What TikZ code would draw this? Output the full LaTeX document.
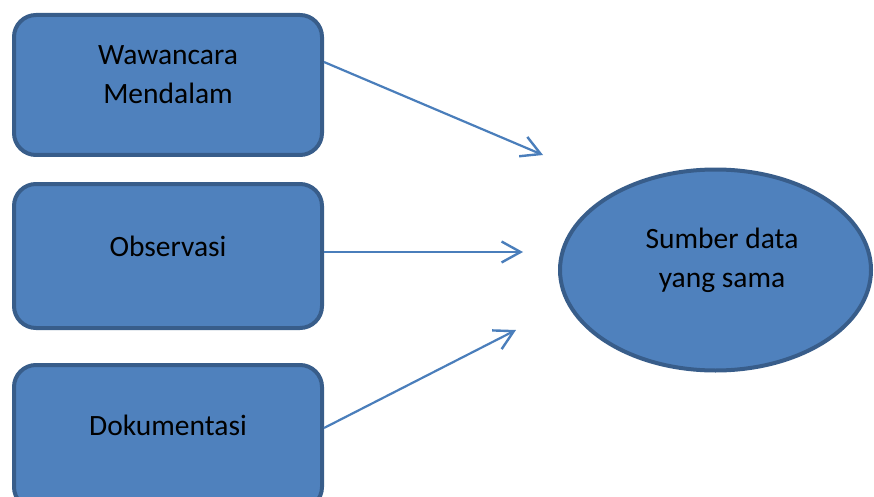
\documentclass[tikz,border=0pt]{standalone}
\usepackage{fontspec}
\setmainfont{Carlito}
\usetikzlibrary{arrows.meta,shapes.geometric}
\definecolor{boxfill}{HTML}{4F81BD}
\definecolor{boxline}{HTML}{385D8A}
\definecolor{arrowcol}{HTML}{4A7EBB}
\begin{document}
\begin{tikzpicture}[x=1pt,y=-1pt,
  box/.style={draw=boxline,fill=boxfill,line width=4pt,rounded corners=22pt,
    minimum width=308pt,inner sep=0pt},
  oval/.style={ellipse,draw=boxline,fill=boxfill,line width=4pt,
    minimum width=311pt,minimum height=201pt,inner sep=0pt},
  txt/.style={font=\fontsize{29.5}{39}\selectfont,align=center,text=black,inner sep=0pt},
  conn/.style={draw=arrowcol,line width=2.2pt,
    -{Straight Barb[length=19pt,width=21pt,line width=2.4pt]}}]
\useasboundingbox (0,0) rectangle (874,497);
\clip (0,0) rectangle (874,497);
\node[box,minimum height=140pt] (w) at (168,85) {};
\node[box,minimum height=144pt] (o) at (168,256) {};
\node[box,minimum height=144pt] (d) at (168,437) {};
\node[oval] (s) at (715.5,270) {};
\node[txt] (wt) at (168,75) {Wawancara\\Mendalam};
\node[txt] (ot) at (168,246) {Observasi};
\node[txt] (dt) at (168,425) {Dokumentasi};
\node[txt] (st) at (722,260) {Sumber data\\yang sama};
\coordinate (a1) at (543,155);
\coordinate (a2) at (523,252);
\coordinate (a3) at (516,330);
\draw[conn] ([yshift=23pt]w.east) -- (a1);
\draw[conn] ([yshift=4pt]o.east) -- (a2);
\draw[conn] ([yshift=9pt]d.east) -- (a3);
\end{tikzpicture}
\end{document}
